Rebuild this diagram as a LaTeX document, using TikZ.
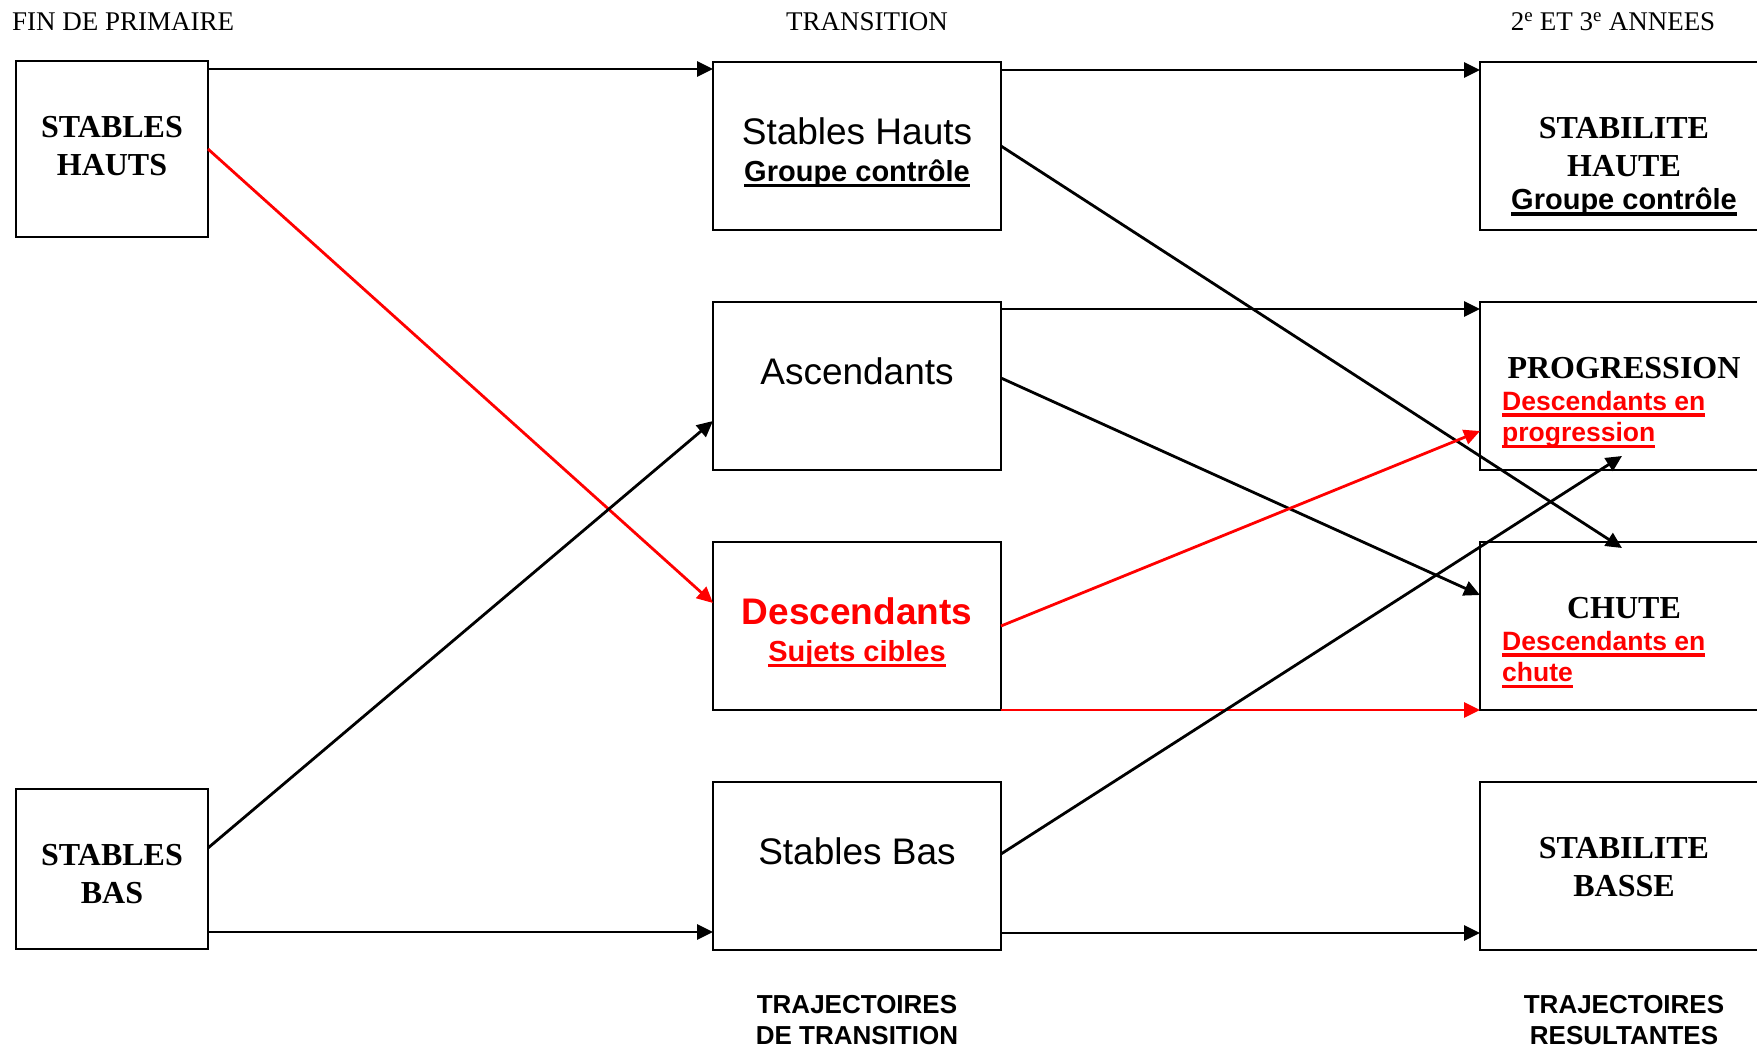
\documentclass[tikz,border=0pt]{standalone}
\usepackage{fontspec}
\setmainfont{Liberation Serif}
\setsansfont{Liberation Sans}
\usetikzlibrary{positioning,arrows.meta}
\definecolor{Rouge}{RGB}{255,0,0}
\newcommand{\souligne}[1]{\setbox0\hbox{#1}\rlap{\vrule height -3pt depth 6.2pt width \wd0}\box0}

\begin{document}
\begin{tikzpicture}[x=1pt,y=-1pt,node distance=72pt,
 box/.style={draw,line width=2.6pt,inner sep=0pt,outer sep=0pt,minimum width=288pt,minimum height=168pt},
 gbox/.style={box,minimum width=192pt},
 tit/.style={anchor=north,inner sep=0pt,align=center,font=\bfseries\fontsize{32}{38}\selectfont},
 lbl/.style={anchor=north,inner sep=0pt,align=center,font=\sffamily\fontsize{37}{37}\selectfont},
 sous/.style={anchor=north west,inner sep=0pt,align=left,text=Rouge,font=\sffamily\bfseries\fontsize{26.5}{31.5}\selectfont},
 ent/.style={inner sep=0pt,font=\fontsize{27}{30}\selectfont},
 bas/.style={inner sep=0pt,align=center,font=\sffamily\bfseries\fontsize{26}{31}\selectfont},
 a/.style={-{Triangle[length=16pt,width=15pt]},line width=2.8pt},
 ar/.style={a,Rouge}]
\useasboundingbox (0,0) rectangle (1757,1049);
% boxes
\node[gbox,minimum height=176pt] (sh) at (112,149) {};
\node[gbox,minimum height=160pt] (sb) at (112,869) {};
\node[box] (tsh) at (857,146) {};
\node[box,below=of tsh] (tasc) {};
\node[box,below=of tasc] (tdesc) {};
\node[box,below=of tdesc] (tsb) {};
\node[box,right=479pt of tsh] (rhaute) {};
\node[box,right=479pt of tasc] (rprog) {};
\node[box,right=479pt of tdesc] (rchute) {};
\node[box,right=479pt of tsb] (rbasse) {};
% texts
\node[tit] (shT) at ([yshift=-55pt]sh.north) {STABLES\\HAUTS};
\node[tit] (sbT) at ([yshift=-55pt]sb.north) {STABLES\\BAS};
\node[lbl] (tshT) at ([yshift=-55pt]tsh.north) {Stables Hauts\\{\bfseries\fontsize{29}{29}\selectfont\souligne{Groupe contrôle}}};
\node[lbl] (tascT) at ([yshift=-55pt]tasc.north) {Ascendants};
\node[lbl,text=Rouge] (tdescT) at ([yshift=-55pt]tdesc.north) {\bfseries Descendants\\{\bfseries\fontsize{29}{29}\selectfont\souligne{Sujets cibles}}};
\node[lbl] (tsbT) at ([yshift=-55pt]tsb.north) {Stables Bas};
\node[tit] (rhauteT) at ([yshift=-55pt]rhaute.north) {STABILITE\\HAUTE\\[-5pt]{\sffamily\fontsize{29}{29}\selectfont\souligne{Groupe contrôle}}};
\node[tit] (rprogT) at ([yshift=-55pt]rprog.north) {PROGRESSION};
\node[sous] (rprogS) at ([xshift=22pt,yshift=-89pt]rprog.north west) {\souligne{Descendants en}\\\souligne{progression}};
\node[tit] (rchuteT) at ([yshift=-55pt]rchute.north) {CHUTE};
\node[sous] (rchuteS) at ([xshift=22pt,yshift=-89pt]rchute.north west) {\souligne{Descendants en}\\\souligne{chute}};
\node[tit] (rbasseT) at ([yshift=-55pt]rbasse.north) {STABILITE\\BASSE};
% headings
\node[ent,anchor=base west] (fin) at (12,31) {FIN DE PRIMAIRE};
\node[ent,above=31pt of tsh,xshift=10pt] (trans) {TRANSITION};
\node[ent,above=31pt of rhaute,xshift=-11pt] (annees) {2\textsuperscript{e} ET 3\textsuperscript{e} ANNEES};
\node[bas,below=45pt of tsb] (trajT) {TRAJECTOIRES\\DE TRANSITION};
\node[bas,below=45pt of rbasse] (trajR) {TRAJECTOIRES\\RESULTANTES};
% connectors
\draw[a] ([yshift=-8pt]sh.north east) -- ([yshift=-8pt]sh.north east -| tsh.west);
\draw[a] ([yshift=-8pt]tsh.north east) -- ([yshift=-8pt]tsh.north east -| rhaute.west);
\draw[a] ([yshift=-7pt]tasc.north east) -- ([yshift=-7pt]tasc.north east -| rprog.west);
\draw[a] ([yshift=17pt]sb.south east) -- ([yshift=17pt]sb.south east -| tsb.west);
\draw[a] ([yshift=17pt]tsb.south east) -- ([yshift=17pt]tsb.south east -| rbasse.west);
\draw[ar] (sh.east) -- ([yshift=23pt]tdesc.west);
\draw[a] ([yshift=21pt]sb.east) -- ([yshift=-35pt]tasc.west);
\draw[a] (tsh.east) -- ([xshift=-2pt,yshift=-6pt]rchute.north);
\draw[a] ([yshift=8pt]tasc.east) -- ([yshift=31pt]rchute.west);
\draw[ar] (tdesc.east) -- ([yshift=-45pt]rprog.west);
\draw[ar] (tdesc.south east) -- (rchute.south west);
\draw[a] ([yshift=12pt]tsb.east) -- ([xshift=-2pt,yshift=14pt]rprog.south);
\end{tikzpicture}
\end{document}
